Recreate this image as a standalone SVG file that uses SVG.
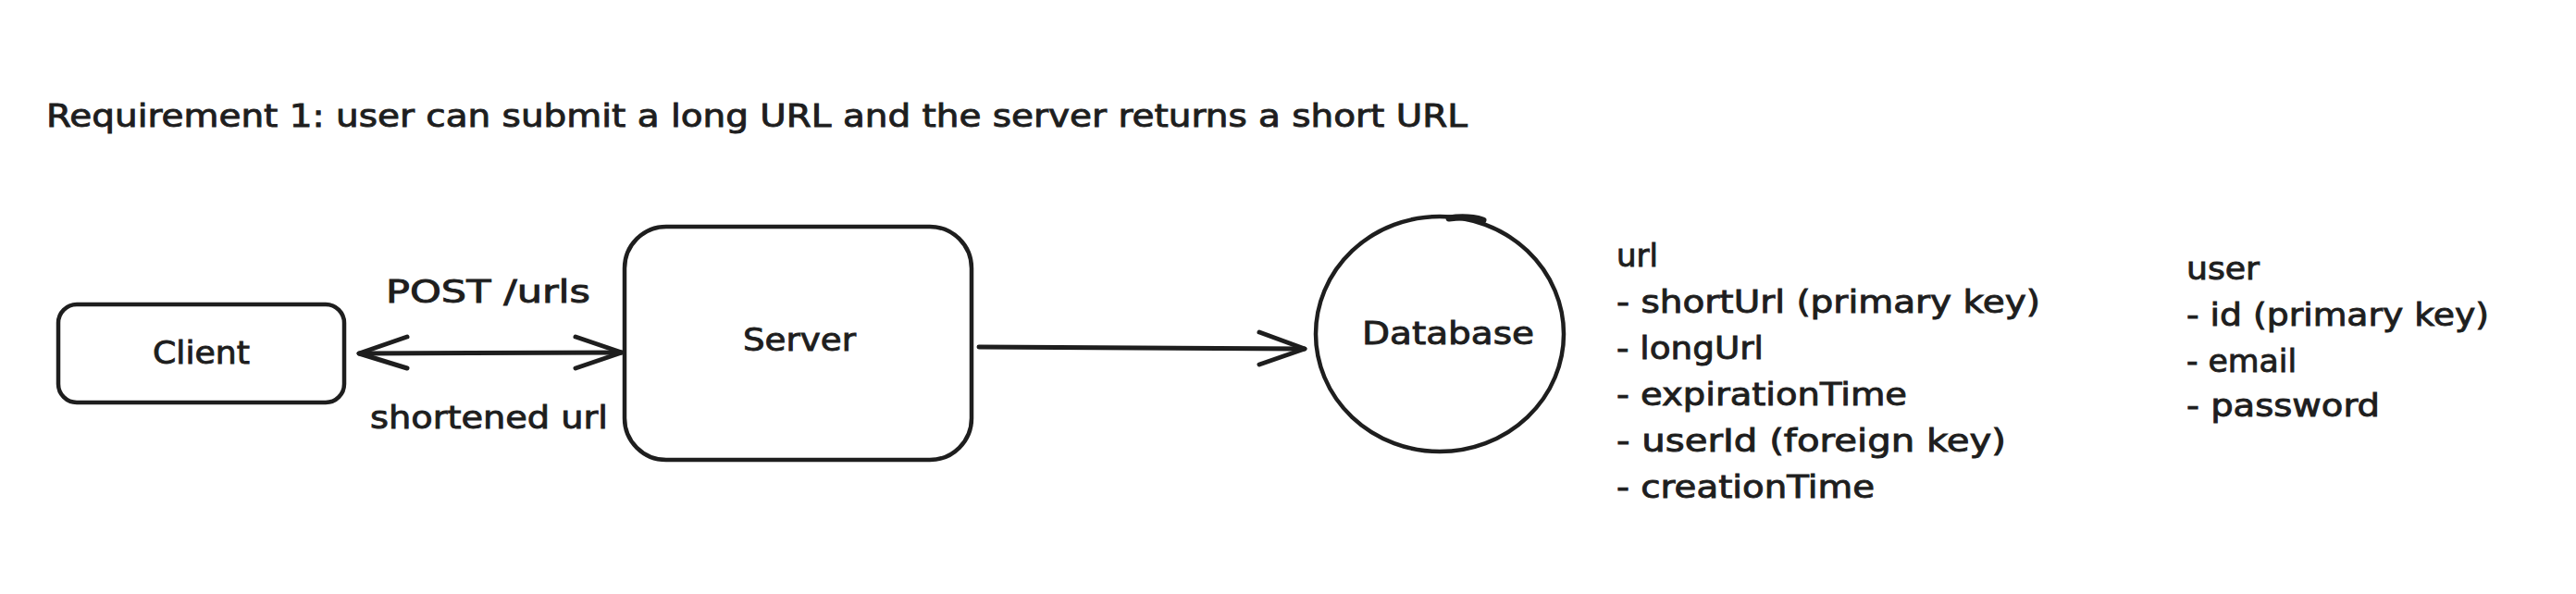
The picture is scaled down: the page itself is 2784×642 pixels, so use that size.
<svg xmlns="http://www.w3.org/2000/svg" width="2784" height="642" viewBox="0 0 2784 642">
  <style>
    .bg { fill: #ffffff; }
    .shape { fill: none; stroke: #1e1e1e; stroke-width: 4.5; stroke-linecap: round; stroke-linejoin: round; }
    .mark { fill: none; stroke: #1e1e1e; stroke-width: 7; stroke-linecap: round; }
    .conn { fill: none; stroke: #1e1e1e; stroke-width: 5; stroke-linecap: round; stroke-linejoin: round; }
    .t { font-family: "DejaVu Sans", "Liberation Sans", sans-serif; font-size: 33px; fill: #1e1e1e; stroke: #1e1e1e; stroke-width: 0.9; }
  </style>
  <rect class="bg" x="0" y="0" width="2784" height="642"/>

  <g id="title">
    <text class="t" x="50" y="137" textLength="1536" lengthAdjust="spacingAndGlyphs">Requirement 1: user can submit a long URL and the server returns a short URL</text>
  </g>

  <g id="client">
    <rect class="shape" x="63" y="329" width="309" height="106" rx="20" ry="20"/>
    <text class="t" x="165" y="393" textLength="105" lengthAdjust="spacingAndGlyphs">Client</text>
  </g>

  <g id="server">
    <rect class="shape" x="675" y="245" width="375" height="252" rx="45" ry="45"/>
    <text class="t" x="803" y="379" textLength="122" lengthAdjust="spacingAndGlyphs">Server</text>
  </g>

  <g id="database">
    <ellipse class="shape" cx="1556" cy="361" rx="134" ry="127"/>
    <path class="mark" d="M1566 236 Q1586 233 1603 238"/>
    <text class="t" x="1472" y="372" textLength="186" lengthAdjust="spacingAndGlyphs">Database</text>
  </g>

  <g id="url-table">
    <text class="t" x="1747" y="288" textLength="45" lengthAdjust="spacingAndGlyphs">url</text>
    <text class="t" x="1747" y="338" textLength="458" lengthAdjust="spacingAndGlyphs">- shortUrl (primary key)</text>
    <text class="t" x="1747" y="388" textLength="159" lengthAdjust="spacingAndGlyphs">- longUrl</text>
    <text class="t" x="1747" y="438" textLength="314" lengthAdjust="spacingAndGlyphs">- expirationTime</text>
    <text class="t" x="1747" y="488" textLength="421" lengthAdjust="spacingAndGlyphs">- userId (foreign key)</text>
    <text class="t" x="1747" y="538" textLength="279" lengthAdjust="spacingAndGlyphs">- creationTime</text>
  </g>

  <g id="user-table">
    <text class="t" x="2363" y="302" textLength="79" lengthAdjust="spacingAndGlyphs">user</text>
    <text class="t" x="2363" y="352" textLength="327" lengthAdjust="spacingAndGlyphs">- id (primary key)</text>
    <text class="t" x="2363" y="402" textLength="119" lengthAdjust="spacingAndGlyphs">- email</text>
    <text class="t" x="2363" y="450" textLength="209" lengthAdjust="spacingAndGlyphs">- password</text>
  </g>

  <g id="connectors">
    <g id="client-server">
      <path class="conn" d="M388 382 L672 381"/>
      <path class="conn" d="M440 364 L388 382 L440 398"/>
      <path class="conn" d="M622 364 L672 381 L622 398"/>
      <text class="t" x="417" y="327" textLength="221" lengthAdjust="spacingAndGlyphs">POST /urls</text>
      <text class="t" x="400" y="463" textLength="257" lengthAdjust="spacingAndGlyphs">shortened url</text>
    </g>
    <g id="server-database">
      <path class="conn" d="M1058 375 L1410 377"/>
      <path class="conn" d="M1361 359 L1410 377 L1361 394"/>
    </g>
  </g>
</svg>
